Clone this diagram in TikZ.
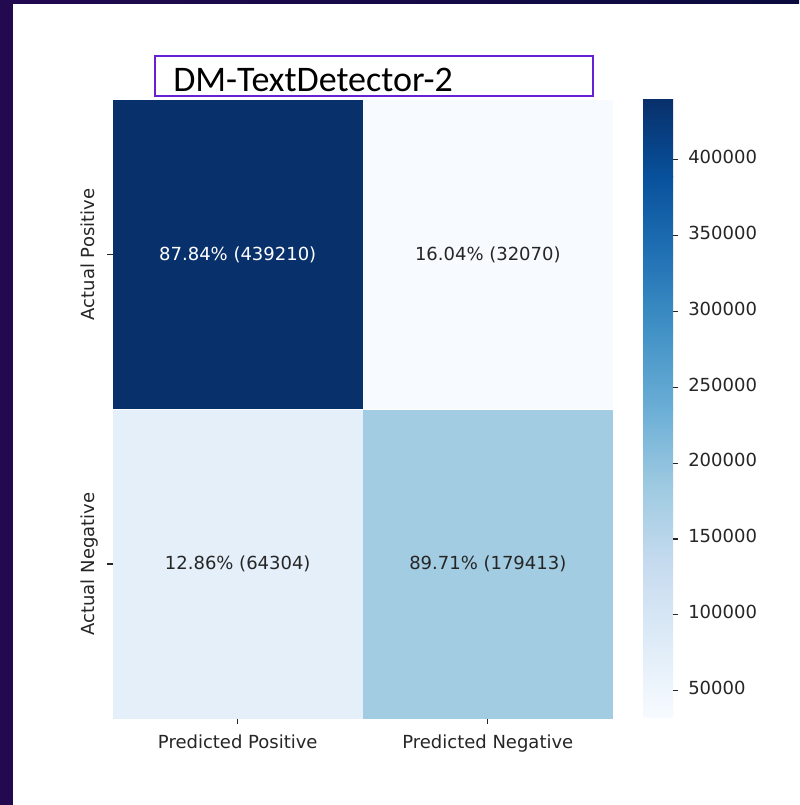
\documentclass[tikz,border=0pt]{standalone}
\usepackage{fontspec}
\setmainfont{DejaVu Sans}
\newfontfamily\titlefont{Carlito}
\usetikzlibrary{positioning, calc}
\definecolor{slidebg}{RGB}{34,9,80}
\definecolor{slidenavy}{RGB}{10,10,62}
\definecolor{boxpurple}{RGB}{102,34,210}
\definecolor{inkgray}{RGB}{38,38,38}
% Blues colour map stops
\definecolor{bluesA}{HTML}{F7FBFF}
\definecolor{bluesB}{HTML}{DEEBF7}
\definecolor{bluesC}{HTML}{C6DBEF}
\definecolor{bluesD}{HTML}{9ECAE1}
\definecolor{bluesE}{HTML}{6BAED6}
\definecolor{bluesF}{HTML}{4292C6}
\definecolor{bluesG}{HTML}{2171B5}
\definecolor{bluesH}{HTML}{08519C}
\definecolor{bluesI}{HTML}{08306B}
\definecolor{cellfp}{RGB}{229,239,249}
\definecolor{celltn}{RGB}{162,204,226}
\tikzset{
  cell/.style={rectangle, inner sep=0pt, minimum width=6.2375cm,
    minimum height=7.725cm, font=\fontsize{12.8}{15}\selectfont, text=inkgray},
  axislabel/.style={font=\fontsize{12.8}{15}\selectfont, text=inkgray, inner sep=0pt},
  tickmark/.style={line width=0.8pt, color=inkgray},
  titlebox/.style={rectangle, draw=boxpurple, line width=1.4pt, fill=white,
    minimum width=10.95cm, minimum height=1cm, inner sep=0pt},
  titletext/.style={font=\titlefont\fontsize{25.6}{30}\selectfont, inner sep=0pt}
}

\begin{document}
\begin{tikzpicture}
  \useasboundingbox (0,0) rectangle (19.975,20.125);
  \fill[white] (0,0) rectangle (19.975,20.125);
  % Slide edges
  \fill[slidebg] (0,0) rectangle (0.325,20.125);
  \shade[left color=slidebg, right color=slidenavy] (0,20.025) rectangle (19.975,20.125);
  % Confusion matrix cells
  \node[cell, fill=bluesI, text=white] (tp) at (5.94375,13.7625) {87.84\% (439210)};
  \node[cell, fill=bluesA, right=0pt of tp] (fn) {16.04\% (32070)};
  \node[cell, fill=cellfp, below=0pt of tp] (fp) {12.86\% (64304)};
  \node[cell, fill=celltn, right=0pt of fp] (tn) {89.71\% (179413)};
  % Row labels
  \foreach \c/\lbl in {tp/Actual Positive, fp/Actual Negative} {
    \draw[tickmark] (\c.west) -- ++(-0.14,0);
    \node[axislabel, rotate=90, anchor=base] (row-\c) at ($(\c.west)+(-0.45,0)$) {\lbl};
  }
  % Column labels
  \foreach \c/\lbl in {fp/Predicted Positive, tn/Predicted Negative} {
    \draw[tickmark] (\c.south) -- ++(0,-0.14);
    \node[axislabel, anchor=base] (col-\c) at ($(\c.south)+(0,-0.75)$) {\lbl};
  }
  % Colour bar
  \foreach \i/\lo/\hi in {0/bluesA/bluesB, 1/bluesB/bluesC, 2/bluesC/bluesD, 3/bluesD/bluesE,
                          4/bluesE/bluesF, 5/bluesF/bluesG, 6/bluesG/bluesH, 7/bluesH/bluesI} {
    \shade[bottom color=\lo, top color=\hi]
      (16.075,{2.175+\i*1.93125}) rectangle (16.825,{2.175+(\i+1)*1.93125+0.01});
  }
  \foreach \k in {50,100,...,400} {
    \pgfmathsetmacro\yy{2.175+(\k-32.07)/407.14*15.45}
    \coordinate (cb\k) at (16.825,\yy);
    \draw[tickmark] (cb\k) -- ++(0.13,0);
    \node[axislabel, anchor=mid west] (cblbl\k) at (17.2,\yy) {\k000};
  }
  % Title
  \node[titlebox, anchor=south west] (titlebox) at (3.85,17.7) {};
  \node[titletext, anchor=base west] (title) at (4.325,17.825) {DM-TextDetector-2};
\end{tikzpicture}
\end{document}
